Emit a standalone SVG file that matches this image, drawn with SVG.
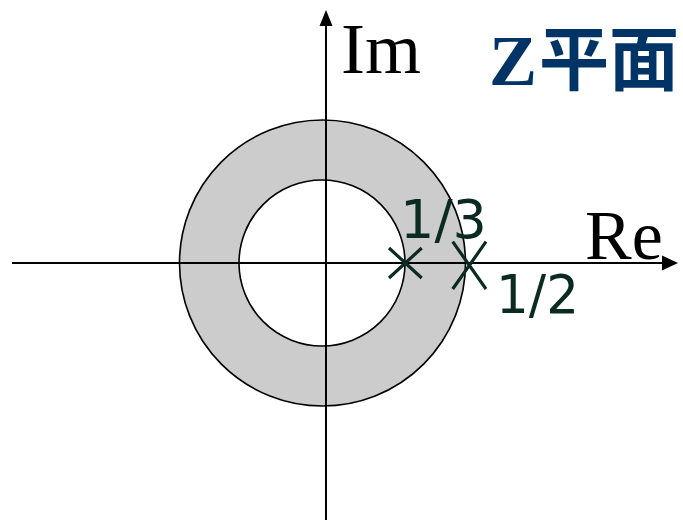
<svg xmlns="http://www.w3.org/2000/svg" width="683" height="521" viewBox="0 0 683 521">
<style>
.ring{stroke:#000;stroke-width:1.6}
.axis{stroke:#000;stroke-width:2;fill:none}
.cross{stroke:#0a2a22;stroke-width:3.2;fill:none}
.lbl{font-family:"DejaVu Sans","Verdana",sans-serif;fill:#0a2a22}
.ax{font-family:"Liberation Serif","Times New Roman",serif;fill:#000}
</style>
<rect width="683" height="521" fill="#fff"/>
<g id="region">
<circle class="ring" cx="322.5" cy="263" r="143" fill="#cccccc"/>
<circle class="ring" cx="322" cy="263" r="83" fill="#fff"/>
</g>
<g id="connectors">
<line class="axis" x1="12" y1="263" x2="662" y2="263"/>
<path d="M662,255.5 L678,263 L662,270.5 Z" fill="#000"/>
<line class="axis" x1="326" y1="520" x2="326" y2="25"/>
<path d="M319.5,26 L326,10 L332.5,26 Z" fill="#000"/>
</g>
<g id="pole13">
<path class="cross" d="M389,248 L421.7,278 M421.7,248 L389,278"/>
<text class="lbl" x="400" y="238" font-size="53" textLength="87" lengthAdjust="spacingAndGlyphs">1/3</text>
</g>
<g id="pole12">
<path class="cross" d="M452.7,241.7 L486,289 M486,241.7 L452.7,289"/>
<text class="lbl" x="496" y="313" font-size="53" textLength="83" lengthAdjust="spacingAndGlyphs">1/2</text>
</g>
<g id="labels">
<text class="ax" x="341" y="73" font-size="72">Im</text>
<text class="ax" x="585" y="259" font-size="70">Re</text>
<text x="489" y="85" font-size="72" fill="#003366" font-weight="bold"><tspan font-family="Liberation Serif,serif">Z</tspan><tspan font-family="Noto Sans CJK SC,sans-serif" font-size="70" dx="2">平面</tspan></text>
</g>
</svg>
